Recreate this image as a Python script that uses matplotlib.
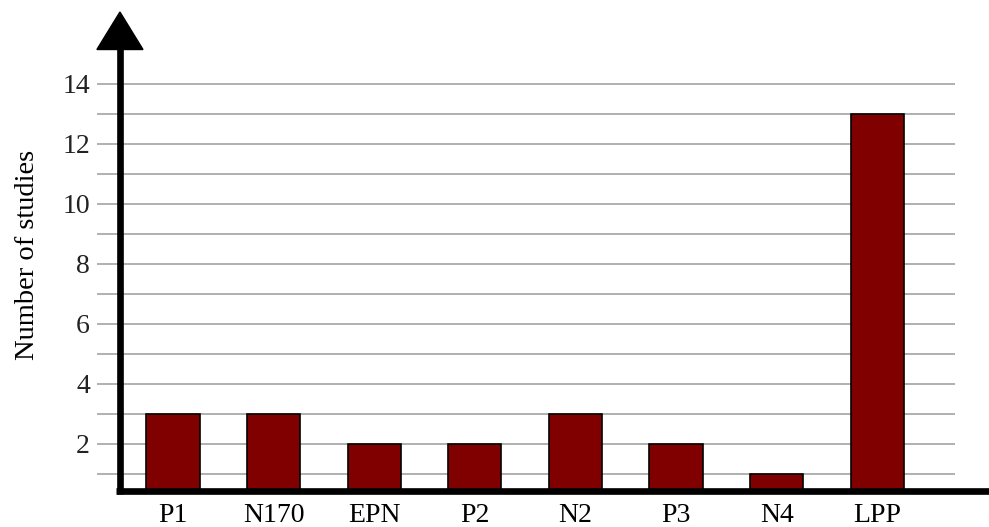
import matplotlib
matplotlib.use('Agg')
import matplotlib.pyplot as plt
from matplotlib.patches import Polygon

# data
components = ['P1', 'N170', 'EPN', 'P2', 'N2', 'P3', 'N4', 'LPP']
studies = [3, 3, 2, 2, 3, 2, 1, 13]
grid_levels = list(range(1, 15))
tick_levels = [2, 4, 6, 8, 10, 12, 14]

plt.rcParams['font.family'] = ['Liberation Serif', 'DejaVu Serif']

W, H = 989, 527
fig = plt.figure(figsize=(W/100, H/100), dpi=100)
# axes placed in pixel terms
left, right = 97, 955
ybot, ytop = 494, 9
ax = fig.add_axes([left/W, (H-ybot)/H, (right-left)/W, (ybot-ytop)/H])
ax.set_xlim(-0.755, 7.773)
ax.set_ylim(0.333, 16.5)
for s in ax.spines.values():
    s.set_visible(False)

# grid
for g in grid_levels:
    ax.axhline(g, color='#aaaaaa', lw=1.3, zorder=1)

x = list(range(len(components)))
ax.bar(x, studies, width=0.53, color='#800000', edgecolor='black', linewidth=1.2, zorder=2)

# axes lines
ax.plot([-0.57, 8.11], [0.43, 0.43], color='black', lw=4.8, solid_capstyle='butt', clip_on=False, zorder=3)
ax.plot([-0.527, -0.527], [0.33, 15.3], color='black', lw=4.8, solid_capstyle='butt', clip_on=False, zorder=3)
ax.add_patch(Polygon([[-0.527-0.229, 15.15], [-0.527+0.229, 15.15], [-0.527, 16.4]],
                     closed=True, color='black', clip_on=False, zorder=3))

ax.set_xticks(x)
ax.set_xticklabels(components, fontsize=20)
ax.set_yticks(tick_levels)
ax.set_yticklabels([str(t) for t in tick_levels], fontsize=20, color='#222222')
ax.tick_params(axis='both', length=0)
ax.tick_params(axis='x', pad=6.5)
ax.tick_params(axis='y', pad=5)

fig.text(28/W, 1-255/H, 'Number of studies', rotation=90, ha='center', va='center', fontsize=20.5)

fig.savefig('out.png', dpi=100)
